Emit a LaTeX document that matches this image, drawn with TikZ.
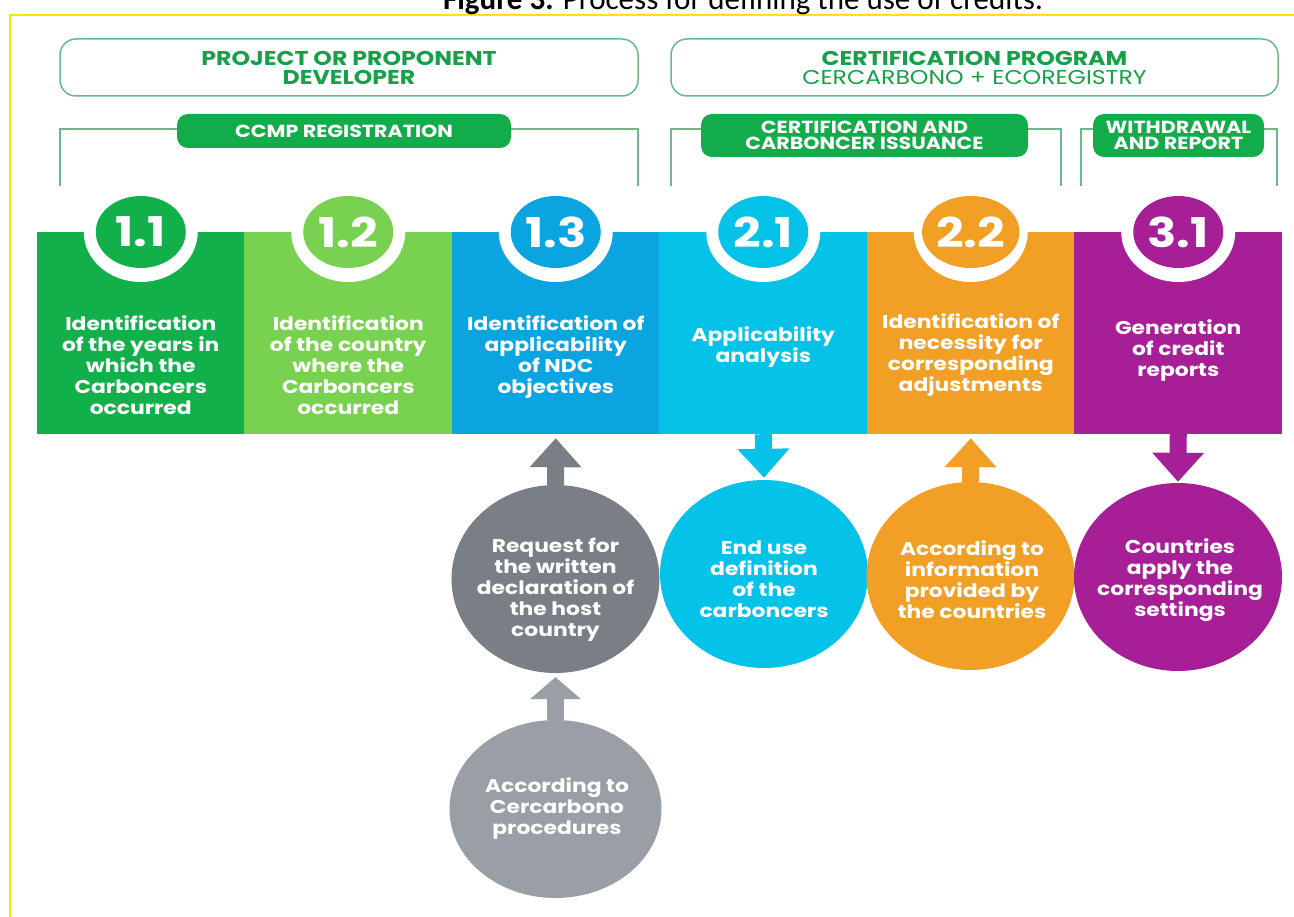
\documentclass[tikz,border=0pt]{standalone}
\usepackage{fontspec}
\setmainfont{Poppins}
\newfontfamily\wide[FakeStretch=1.18]{Poppins}
\newfontfamily\capfont{Carlito}
\usetikzlibrary{shapes.geometric,arrows.meta}
\definecolor{cA}{HTML}{12B04A}
\definecolor{cB}{HTML}{78D14F}
\definecolor{cC}{HTML}{0AA5E0}
\definecolor{cD}{HTML}{05C3E8}
\definecolor{cE}{HTML}{F29F26}
\definecolor{cF}{HTML}{A71F96}
\definecolor{gD}{HTML}{7A7E85}
\definecolor{gL}{HTML}{9A9EA5}
\definecolor{hdr}{HTML}{17A04A}
\definecolor{hline}{HTML}{6DB88A}
\definecolor{pill}{HTML}{12AD4A}
\definecolor{ybord}{HTML}{FFE500}
\begin{document}
\begin{tikzpicture}[x=1pt,y=-1pt,
  hbox/.style={draw=hline,line width=1.5pt,rounded corners=16pt,minimum width=578pt,minimum height=57pt,inner sep=0pt},
  htext/.style={text=hdr,align=center,font=\wide\bfseries\fontsize{20}{19}\selectfont},
  bracket/.style={draw=hline,line width=1.3pt},
  pillbox/.style={fill=pill,rounded corners=11pt,inner sep=0pt,text=white,align=center,font=\wide\bfseries\fontsize{17.5}{15.5}\selectfont},
  band/.style={minimum width=207.8pt,minimum height=202pt,inner sep=0pt},
  ring/.style={ellipse,fill=white,minimum width=114pt,minimum height=100pt,inner sep=0pt},
  num/.style={ellipse,minimum width=90pt,minimum height=72pt,inner sep=0pt,text=white,font=\wide\bfseries\fontsize{41}{41}\selectfont},
  ctext/.style={text=white,align=center,font=\wide\bfseries\fontsize{18.5}{21}\selectfont},
  bigc/.style={ellipse,minimum width=208pt,minimum height=188pt,inner sep=0pt},
  arr/.style={line width=17pt,-{Triangle[width=50pt,length=29pt]}}
]
\useasboundingbox (0,0) rectangle (1294,917);
\clip (0,0) rectangle (1294,917);
% border and caption
\draw[ybord,line width=2.5pt] (10,930) -- (10,15) -- (1300,15);
\node[anchor=base,inner sep=0pt,font=\capfont\fontsize{31}{34}\selectfont] (cap) at (743,10) {\textbf{Figure 3.} Process for defining the use of credits.};
% headers
\node[hbox] (h1) at (349,67.5) {};
\node[htext] (h1t) at (h1.center) {PROJECT OR PROPONENT\\DEVELOPER};
\node[hbox,minimum width=607pt] (h2) at (974.5,67.5) {};
\node[htext] (h2t) at (h2.center) {CERTIFICATION PROGRAM\\\mdseries CERCARBONO + ECOREGISTRY};
% brackets
\draw[bracket] (60,186) -- (60,129) -- (638,129) -- (638,186);
\draw[bracket] (671,186) -- (671,129) -- (1061,129) -- (1061,186);
\draw[bracket] (1081,186) -- (1081,129) -- (1277,129) -- (1277,186);
\node[pillbox,minimum width=334pt,minimum height=34pt] (p1) at (344,131) {CCMP REGISTRATION};
\node[pillbox,minimum width=327pt,minimum height=43pt] (p2) at (864.5,135.5) {CERTIFICATION AND\\CARBONCER ISSUANCE};
\node[pillbox,minimum width=171pt,minimum height=43pt] (p3) at (1178.5,135.5) {WITHDRAWAL\\AND REPORT};
% bands
\node[band,fill=cA] (b1) at (140.75,333) {};
\node[band,fill=cB] (b2) at (348.25,333) {};
\node[band,fill=cC] (b3) at (555.75,333) {};
\node[band,fill=cD] (b4) at (763.25,333) {};
\node[band,fill=cE] (b5) at (970.75,333) {};
\node[band,fill=cF] (b6) at (1178.25,333) {};
% number circles
\node[ring] (r1) at (140.75,232) {};
\node[ring] (r2) at (348.25,232) {};
\node[ring] (r3) at (555.75,232) {};
\node[ring] (r4) at (763.25,232) {};
\node[ring] (r5) at (970.75,232) {};
\node[ring] (r6) at (1178.25,232) {};
\node[num,fill=cA] (n1) at (r1) {1.1};
\node[num,fill=cB] (n2) at (r2) {1.2};
\node[num,fill=cC] (n3) at (r3) {1.3};
\node[num,fill=cD] (n4) at (r4) {2.1};
\node[num,fill=cE] (n5) at (r5) {2.2};
\node[num,fill=cF] (n6) at (r6) {3.1};
% band texts
\node[ctext] (t1) at (140.75,365) {Identification\\of the years in\\which the\\Carboncers\\occurred};
\node[ctext] (t2) at (348.25,365) {Identification\\of the country\\where the\\Carboncers\\occurred};
\node[ctext] (t3) at (555.75,357) {Identification of\\applicability\\of NDC\\objectives};
\node[ctext] (t4) at (763.25,347) {Applicability\\analysis};
\node[ctext] (t5) at (970.75,355) {Identification of\\necessity for\\corresponding\\adjustments};
\node[ctext] (t6) at (1178.25,351) {Generation\\of credit\\reports};
% lower circles
\node[bigc,fill=gD] (g1) at (555.5,579) {};
\node[bigc,fill=cD] (c4) at (764,574) {};
\node[bigc,fill=cE] (c5) at (970.5,576) {};
\node[bigc,fill=cF] (c6) at (1178,577) {};
\node[bigc,fill=gL,minimum width=212pt,minimum height=178pt] (g2) at (555.5,809) {};
\node[ctext] (g1t) at (555.5,590) {Request for\\the written\\declaration of\\the host\\country};
\node[ctext] (c4t) at (764,579) {End use\\definition\\of the\\carboncers};
\node[ctext] (c5t) at (972,580) {According to\\information\\provided by\\the countries};
\node[ctext] (c6t) at (1180,580) {Countries\\apply the\\corresponding\\settings};
\node[ctext] (g2t) at (557,809) {According to\\Cercarbono\\procedures};
% arrows
\draw[arr,draw=gD,fill=gD,shorten >=4pt] (g1.north) -- (b3.south);
\draw[arr,draw=cD,fill=cD,shorten >=2pt] (b4.south) -- (c4.north);
\draw[arr,draw=cE,fill=cE,shorten >=4pt] (c5.north) -- (b5.south);
\draw[arr,draw=cF,fill=cF,shorten >=1pt] (b6.south) -- (c6.north);
\draw[line width=17pt,-{Triangle[width=50pt,length=22pt]},draw=gL,fill=gL,shorten >=4pt] (g2.north) -- (g1.south);
\end{tikzpicture}
\end{document}
